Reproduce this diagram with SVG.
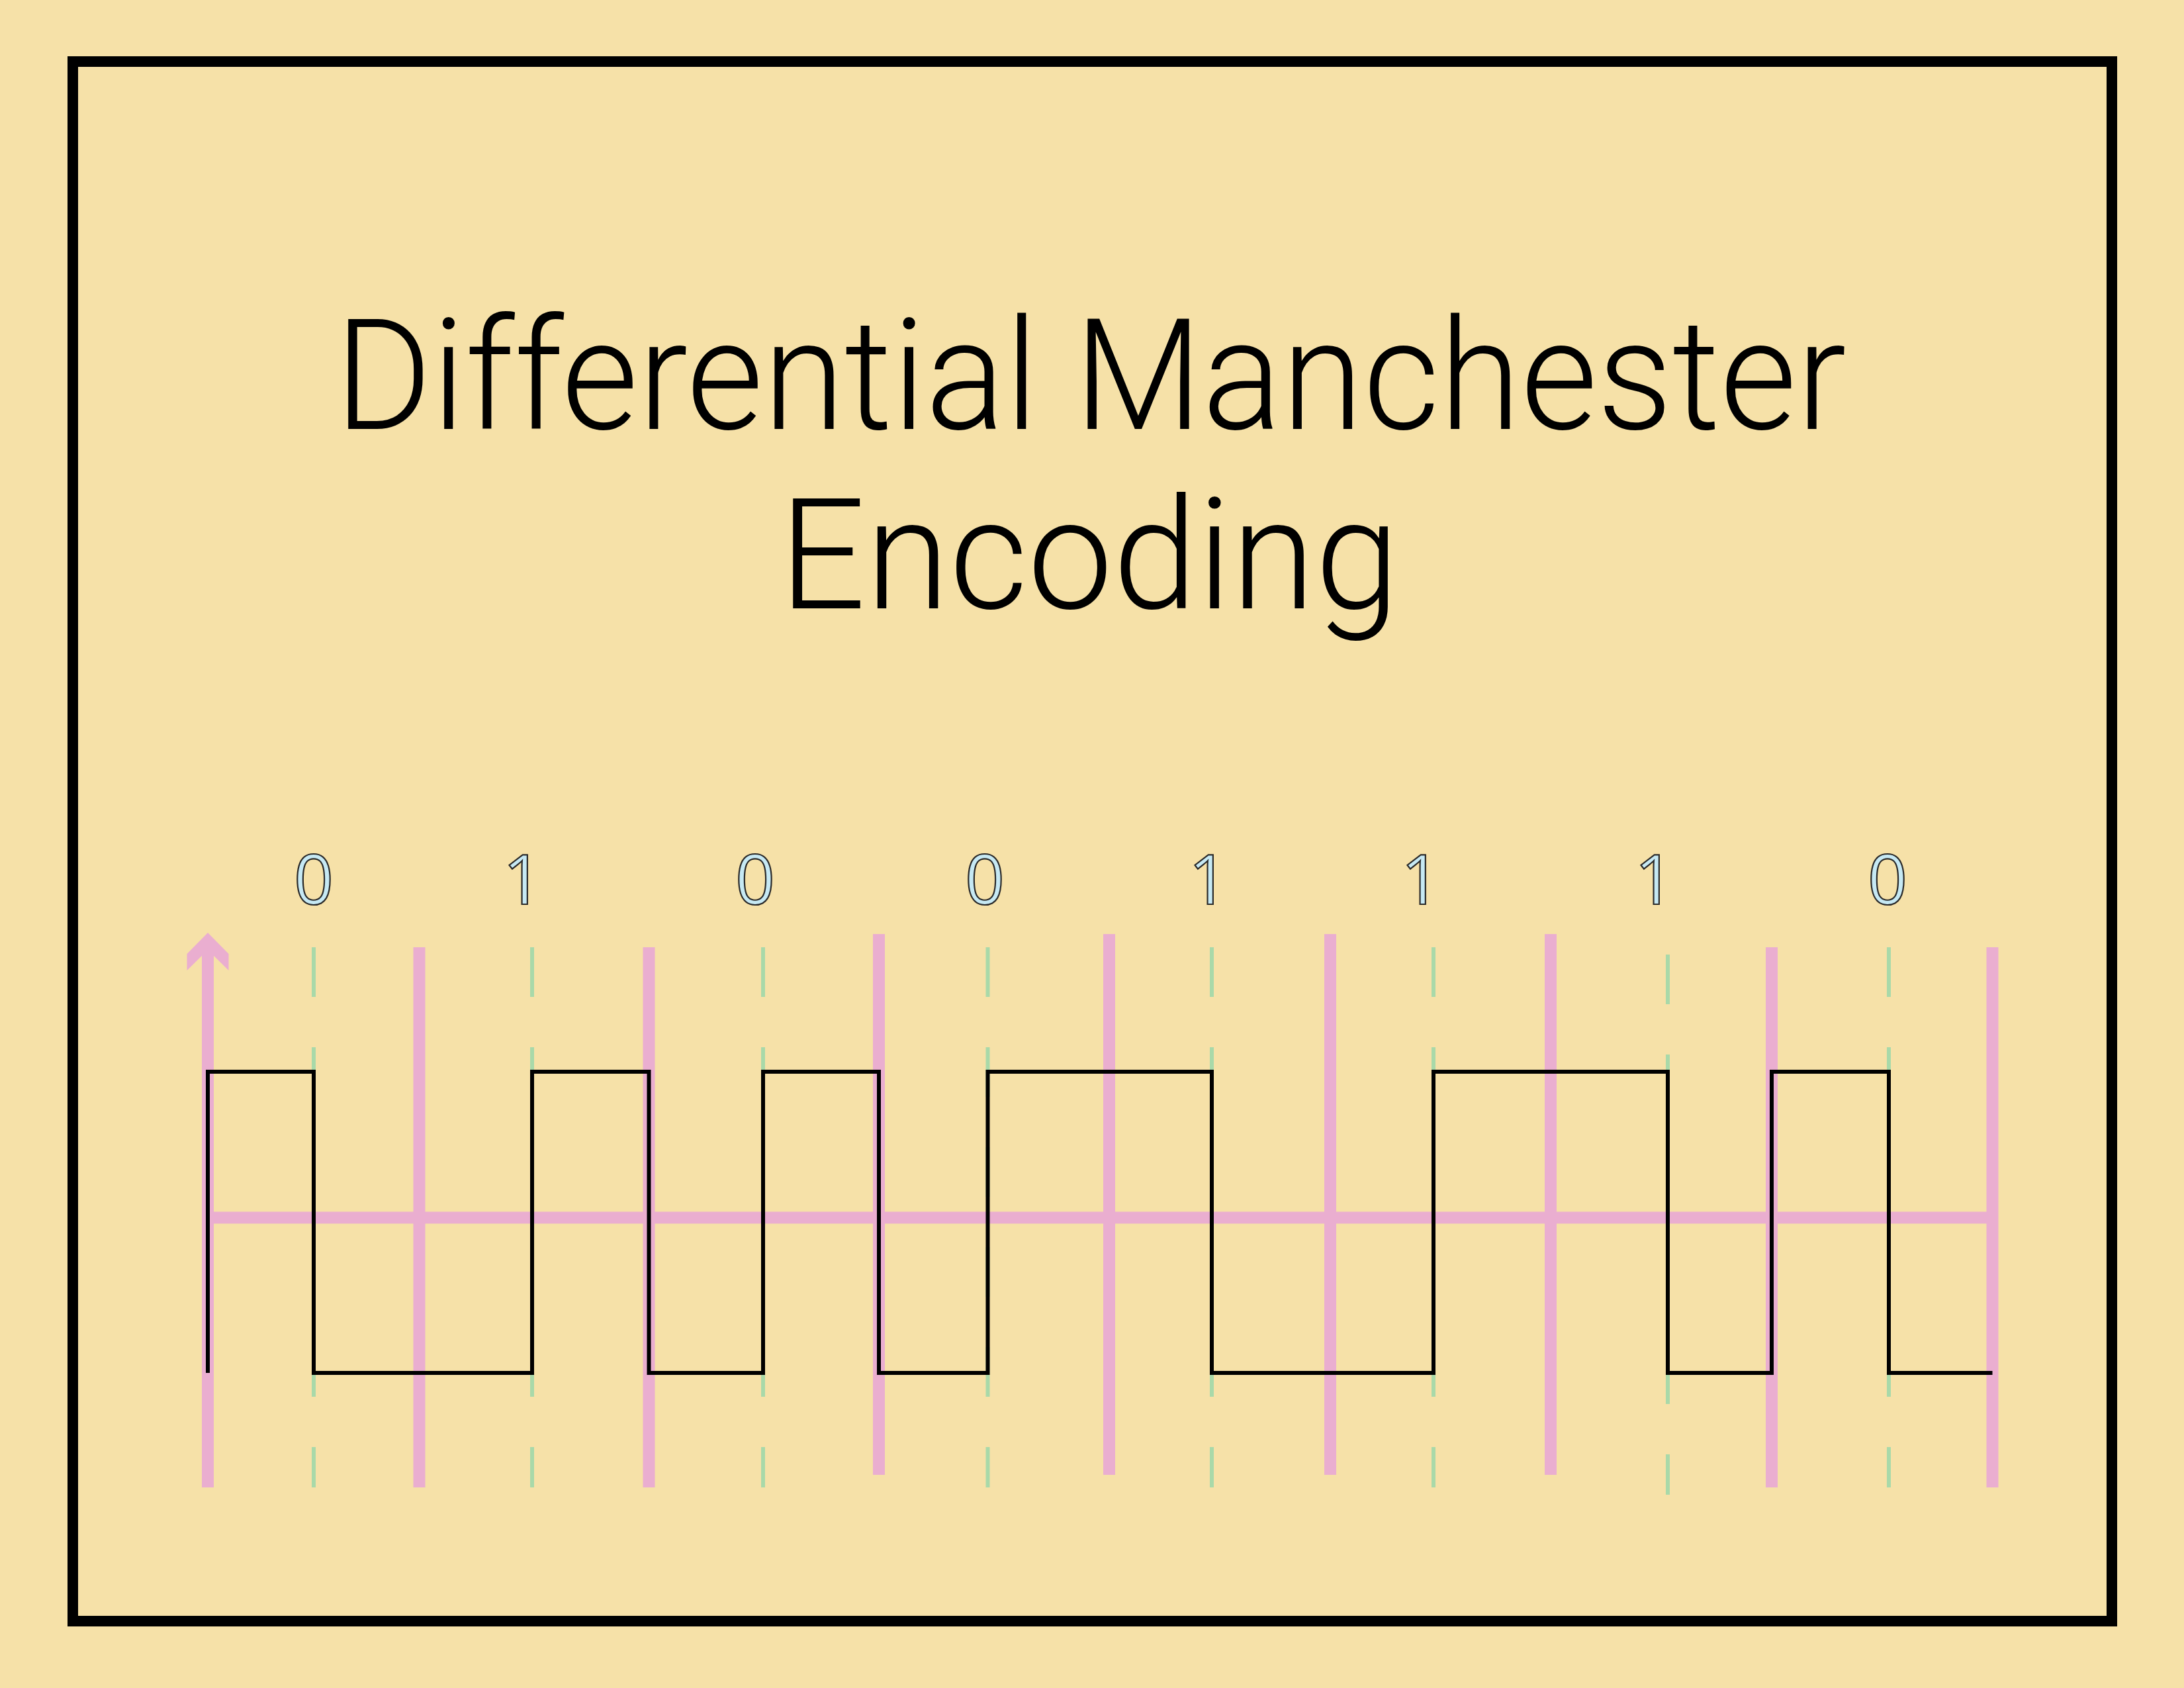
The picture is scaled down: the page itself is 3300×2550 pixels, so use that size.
<svg xmlns="http://www.w3.org/2000/svg" width="3300" height="2550" viewBox="0 0 3300 2550">
<style>
.bg{fill:#F6E1A8}
.frame{fill:none;stroke:#000;stroke-width:16}
.title{font-family:Roboto,"Liberation Sans",sans-serif;font-weight:300;font-size:233px;fill:#000}
.bit{font-family:"Open Sans","Liberation Sans",sans-serif;font-weight:400;font-size:105px;fill:#C6E9F4;stroke:#2a2a2a;stroke-width:2.2;text-anchor:middle}
.pink{stroke:#EAAED0;stroke-width:18;fill:none}
.green{stroke:#A9D9A9;stroke-width:6;stroke-dasharray:75 76;fill:none}
.wave{stroke:#000;stroke-width:6;fill:none;stroke-linejoin:miter}
</style>
<rect class="bg" x="0" y="0" width="3300" height="2550"/>
<rect id="frame" class="frame" x="110" y="93" width="3081" height="2356"/>
<g id="title">
<text class="title" x="1648" y="648" text-anchor="middle" textLength="2284" lengthAdjust="spacingAndGlyphs">Differential Manchester</text>
<text class="title" x="1646" y="919" text-anchor="middle" textLength="937" lengthAdjust="spacingAndGlyphs">Encoding</text>
</g>
<g id="bits">
<text class="bit" x="474" y="1366">0</text>
<text class="bit" x="790" y="1366">1</text>
<text class="bit" x="1141" y="1366">0</text>
<text class="bit" x="1488" y="1366">0</text>
<text class="bit" x="1826" y="1366">1</text>
<text class="bit" x="2147" y="1366">1</text>
<text class="bit" x="2500" y="1366">1</text>
<text class="bit" x="2852" y="1366">0</text>
</g>
<g id="grid">
<line class="green" x1="474" y1="1431" x2="474" y2="2247"/>
<line class="green" x1="804" y1="1431" x2="804" y2="2247"/>
<line class="green" x1="1153" y1="1431" x2="1153" y2="2247"/>
<line class="green" x1="1492.5" y1="1431" x2="1492.5" y2="2247"/>
<line class="green" x1="1831" y1="1431" x2="1831" y2="2247"/>
<line class="green" x1="2166" y1="1431" x2="2166" y2="2247"/>
<line class="green" x1="2520" y1="1442" x2="2520" y2="2258"/>
<line class="green" x1="2854" y1="1431" x2="2854" y2="2247"/>
<line class="pink" x1="314" y1="1839.5" x2="3010" y2="1839.5"/>
<line class="pink" x1="314" y1="1430" x2="314" y2="2247"/>
<polygon fill="#EAAED0" points="314,1409 345.5,1441 345.5,1466 314,1435 282.5,1466 282.5,1441"/>
<line class="pink" x1="633.5" y1="1431" x2="633.5" y2="2247"/>
<line class="pink" x1="980.5" y1="1431" x2="980.5" y2="2247"/>
<line class="pink" x1="1328" y1="1411" x2="1328" y2="2228"/>
<line class="pink" x1="1676" y1="1411" x2="1676" y2="2228"/>
<line class="pink" x1="2010" y1="1411" x2="2010" y2="2228"/>
<line class="pink" x1="2343" y1="1411" x2="2343" y2="2228"/>
<line class="pink" x1="2677" y1="1431" x2="2677" y2="2247"/>
<line class="pink" x1="3010.5" y1="1431" x2="3010.5" y2="2247"/>
</g>
<g id="connectors">
<path id="signal" class="wave" d="M314,2074 V1619 H474 V2074 H804 V1619 H980.5 V2074 H1153 V1619 H1328 V2074 H1492.5 V1619 H1831 V2074 H2166 V1619 H2520 V2074 H2677 V1619 H2854 V2074 H3010.5"/>
</g>
</svg>
